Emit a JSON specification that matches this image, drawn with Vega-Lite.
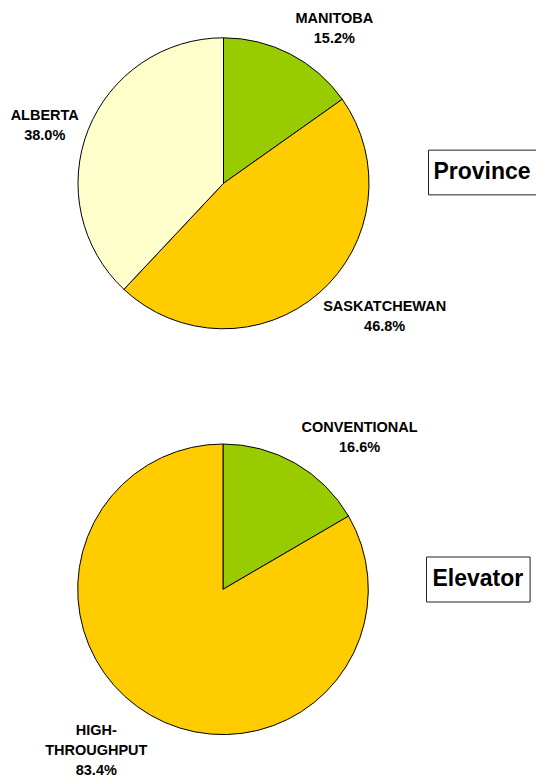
{
  "$schema": "https://vega.github.io/schema/vega-lite/v6.json",
  "padding": 0,
  "background": "white",
  "config": {"view": {"stroke": null}, "font": "Liberation Sans"},
  "datasets": {
    "province": [
      {"idx": 1, "name": "MANITOBA", "share": 15.2},
      {"idx": 2, "name": "SASKATCHEWAN", "share": 46.8},
      {"idx": 3, "name": "ALBERTA", "share": 38.0}
    ],
    "elevator": [
      {"idx": 1, "name": "CONVENTIONAL", "share": 16.6},
      {"idx": 2, "name": "HIGH-THROUGHPUT", "share": 83.4}
    ],
    "box1": [{"t": "Province"}],
    "box2": [{"t": "Elevator"}]
  },
  "spacing": 35,
  "vconcat": [
    {
      "hconcat": [
        {
          "width": 427.4,
          "height": 343.4,
          "view": {"stroke": null},
          "data": {"name": "province"},
          "transform": [
            {"calculate": "replace(datum.name, '-', '-\\n') + '\\n' + format(datum.share, '.1f') + '%'", "as": "lbl"},
            {"calculate": "split(replace(datum.name, '-', '-\\n'), '\\n')", "as": "lines"},
            {"calculate": "4.95 * max(length(datum.lines[0]), length(peek(datum.lines)))", "as": "hw"},
            {"calculate": "length(datum.lines)", "as": "extra"}
          ],
          "encoding": {
            "theta": {"field": "share", "type": "quantitative", "stack": true},
            "order": {"field": "idx", "type": "quantitative"}
          },
          "layer": [
            {
              "mark": {"type": "arc", "radius": 145.5, "stroke": "#000000", "strokeWidth": 1, "xOffset": 9.8, "yOffset": 11.3},
              "encoding": {
                "color": {
                  "field": "name", "type": "nominal", "legend": null,
                  "scale": {"domain": ["MANITOBA", "SASKATCHEWAN", "ALBERTA"], "range": ["#99CC00", "#FFCC00", "#FFFFCC"]}
                }
              }
            },
            {
              "mark": {
                "type": "text", "radius": 155, "xOffset": 9.8, "yOffset": 11.3,
                "font": "Liberation Sans", "fontWeight": "bold", "fontSize": 14.5,
                "lineBreak": "\n", "lineHeight": 20, "align": "center", "color": "#000000",
                "dx": {"expr": "(datum.share_start + datum.share_end) < 100 ? datum.hw : -datum.hw"},
                "dy": {"expr": "cos(PI * (datum.share_start + datum.share_end) / 100) > 0.5 ? -20 * datum.extra : (cos(PI * (datum.share_start + datum.share_end) / 100) < -0.5 ? 0 : -10 * datum.extra)"},
                "baseline": {"expr": "cos(PI * (datum.share_start + datum.share_end) / 100) > 0.5 ? 'bottom' : (cos(PI * (datum.share_start + datum.share_end) / 100) < -0.5 ? 'top' : 'middle')"}
              },
              "encoding": {
                "detail": {"field": "name", "type": "nominal"},
                "text": {"field": "lbl", "type": "nominal"}
              }
            }
          ]
        },
        {
          "width": 108,
          "height": 44.7,
          "view": {"stroke": "#222222", "strokeWidth": 1},
          "data": {"name": "box1"},
          "mark": {"type": "text", "font": "Liberation Sans", "fontWeight": "bold", "fontSize": 23, "align": "center", "baseline": "middle", "color": "#000000"},
          "encoding": {"text": {"field": "t", "type": "nominal"}}
        }
      ],
      "spacing": 0,
      "center": true,
      "bounds": "flush"
    },
    {
      "hconcat": [
        {
          "width": 425.6,
          "height": 399.6,
          "view": {"stroke": null},
          "data": {"name": "elevator"},
          "transform": [
            {"calculate": "replace(datum.name, '-', '-\\n') + '\\n' + format(datum.share, '.1f') + '%'", "as": "lbl"},
            {"calculate": "split(replace(datum.name, '-', '-\\n'), '\\n')", "as": "lines"},
            {"calculate": "4.95 * max(length(datum.lines[0]), length(peek(datum.lines)))", "as": "hw"},
            {"calculate": "length(datum.lines)", "as": "extra"}
          ],
          "encoding": {
            "theta": {"field": "share", "type": "quantitative", "stack": true},
            "order": {"field": "idx", "type": "quantitative"}
          },
          "layer": [
            {
              "mark": {"type": "arc", "radius": 145.3, "stroke": "#000000", "strokeWidth": 1, "xOffset": 10.2, "yOffset": 10.3},
              "encoding": {
                "color": {
                  "field": "name", "type": "nominal", "legend": null,
                  "scale": {"domain": ["CONVENTIONAL", "HIGH-THROUGHPUT"], "range": ["#99CC00", "#FFCC00"]}
                }
              }
            },
            {
              "mark": {
                "type": "text", "radius": 155, "xOffset": 10.2, "yOffset": 10.3,
                "font": "Liberation Sans", "fontWeight": "bold", "fontSize": 14.5,
                "lineBreak": "\n", "lineHeight": 20, "align": "center", "color": "#000000",
                "dx": {"expr": "(datum.share_start + datum.share_end) < 100 ? datum.hw : -datum.hw"},
                "dy": {"expr": "cos(PI * (datum.share_start + datum.share_end) / 100) > 0.5 ? -20 * datum.extra : (cos(PI * (datum.share_start + datum.share_end) / 100) < -0.5 ? 0 : -10 * datum.extra)"},
                "baseline": {"expr": "cos(PI * (datum.share_start + datum.share_end) / 100) > 0.5 ? 'bottom' : (cos(PI * (datum.share_start + datum.share_end) / 100) < -0.5 ? 'top' : 'middle')"}
              },
              "encoding": {
                "detail": {"field": "name", "type": "nominal"},
                "text": {"field": "lbl", "type": "nominal"}
              }
            }
          ]
        },
        {
          "width": 103.6,
          "height": 45,
          "view": {"stroke": "#222222", "strokeWidth": 1},
          "data": {"name": "box2"},
          "mark": {"type": "text", "font": "Liberation Sans", "fontWeight": "bold", "fontSize": 23, "align": "center", "baseline": "middle", "color": "#000000"},
          "encoding": {"text": {"field": "t", "type": "nominal"}}
        }
      ],
      "spacing": 0,
      "center": true,
      "bounds": "flush"
    }
  ]
}
